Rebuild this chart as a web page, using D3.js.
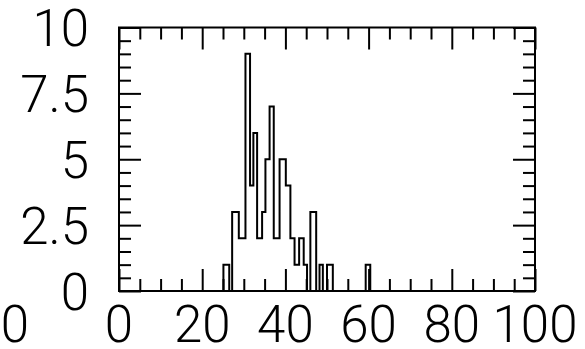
<!DOCTYPE html>
<html>
<head>
<meta charset="utf-8">
<script src="https://cdn.jsdelivr.net/npm/d3@7"></script>
<style>
  html, body { margin: 0; padding: 0; background: #fff; }
  svg { display: block; }
  .lbl { font-family: Roboto, "Liberation Sans", sans-serif; font-weight: 300; font-size: 51px; fill: #000; }
</style>
</head>
<body>
<svg id="chart" width="585" height="349"></svg>
<script>
// Histogram bin edges (x units) and the count in each bin between consecutive edges
const binEdges = [25.1, 26.5, 27.2, 28.8, 30.4, 31.5, 32.3, 33.2, 34.4, 35.2, 36.2, 37.2, 38.6,
                  40.1, 41.2, 42.2, 43.3, 44.4, 45.2, 46.0, 47.4, 48.2, 49.0, 50.0, 51.4, 59.3, 60.4];
const binCounts = [1, 0, 3, 2, 9, 4, 6, 2, 3, 5, 7, 2, 5, 4, 2, 1, 2, 1, 0, 3, 0, 1, 0, 1, 0, 1];

// Axis ticks and labels
const xMajorTicks = [0, 20, 40, 60, 80, 100];
const xMinorTicks = [5, 10, 15, 25, 30, 35, 45, 50, 55, 65, 70, 75, 85, 90, 95];
const xTickLabels = ["0", "20", "40", "60", "80", "100"];
const yMajorTicks = [0, 2.5, 5, 7.5, 10];
const yMinorTicks = [0.5, 1, 1.5, 2, 3, 3.5, 4, 4.5, 5.5, 6, 6.5, 7, 8, 8.5, 9, 9.5];
const yTickLabels = ["0", "2.5", "5", "7.5", "10"];
const cornerLabel = "0";

const svg = d3.select("#chart");
const plotLeft = 119, plotRight = 535, plotTop = 27.5, plotBottom = 291;
const majorLen = 22, minorLen = 12;

const x = d3.scaleLinear().domain([0, 100]).range([plotLeft, plotRight]);
const y = d3.scaleLinear().domain([0, 10]).range([plotBottom, plotTop]);

function styleAxis(g) {
  g.select(".domain").remove();
  g.selectAll(".tick line").attr("stroke", "#000").attr("stroke-width", 2);
}

// Inward-pointing ticks on all four sides
function addX(axisFn, yPos, ticks, len) {
  svg.append("g").attr("transform", `translate(0,${yPos})`)
    .call(axisFn(x).tickValues(ticks).tickSize(-len).tickSizeOuter(0).tickFormat(""))
    .call(styleAxis);
}
function addY(axisFn, xPos, ticks, len) {
  svg.append("g").attr("transform", `translate(${xPos},0)`)
    .call(axisFn(y).tickValues(ticks).tickSize(-len).tickSizeOuter(0).tickFormat(""))
    .call(styleAxis);
}
addX(d3.axisBottom, plotBottom, xMajorTicks, majorLen);
addX(d3.axisBottom, plotBottom, xMinorTicks, minorLen);
addX(d3.axisTop, plotTop, xMajorTicks, majorLen);
addX(d3.axisTop, plotTop, xMinorTicks, minorLen);
addY(d3.axisLeft, plotLeft, yMajorTicks, majorLen);
addY(d3.axisLeft, plotLeft, yMinorTicks, minorLen);
addY(d3.axisRight, plotRight, yMajorTicks, majorLen);
addY(d3.axisRight, plotRight, yMinorTicks, minorLen);

// Plot frame
svg.append("rect")
  .attr("x", plotLeft).attr("y", plotTop)
  .attr("width", plotRight - plotLeft).attr("height", plotBottom - plotTop)
  .attr("fill", "none").attr("stroke", "#000").attr("stroke-width", 2);

// Tick labels
svg.append("g").selectAll("text").data(xMajorTicks).join("text")
  .attr("class", "lbl")
  .attr("x", d => x(d)).attr("y", 342)
  .attr("text-anchor", "middle")
  .text((d, i) => xTickLabels[i]);

svg.append("g").selectAll("text").data(yMajorTicks).join("text")
  .attr("class", "lbl")
  .attr("x", 89).attr("y", d => y(d) + 18.5)
  .attr("text-anchor", "end")
  .text((d, i) => yTickLabels[i]);

svg.append("text").attr("class", "lbl")
  .attr("x", 15).attr("y", 342).attr("text-anchor", "middle")
  .text(cornerLabel);

// Step outline of the histogram
const pts = [[x(binEdges[0]), y(0)]];
binCounts.forEach((c, i) => {
  pts.push([x(binEdges[i]), y(c)]);
  pts.push([x(binEdges[i + 1]), y(c)]);
});
pts.push([x(binEdges[binEdges.length - 1]), y(0)]);

svg.append("path")
  .attr("d", d3.line()(pts))
  .attr("fill", "none")
  .attr("stroke", "#000")
  .attr("stroke-width", 2)
  .attr("stroke-linejoin", "miter");
</script>
</body>
</html>
